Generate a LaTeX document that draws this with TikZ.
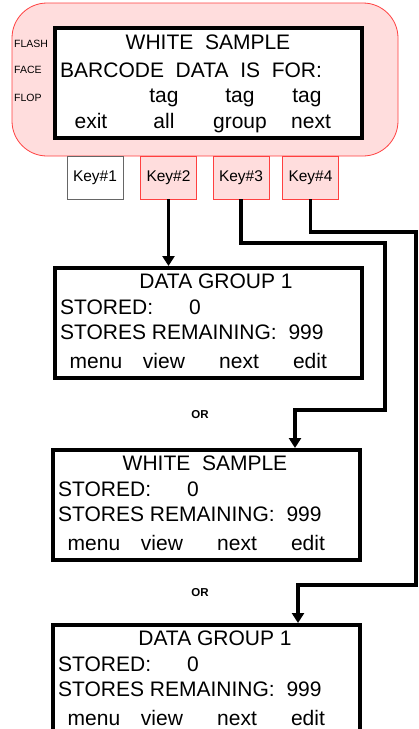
\documentclass[tikz,border=0pt]{standalone}
\usepackage{fontspec}
\setmainfont{Liberation Sans}
\usetikzlibrary{arrows.meta,positioning}
\definecolor{panelpink}{HTML}{FFDDDD}
\definecolor{panelred}{HTML}{FF4040}
\tikzset{
  >={Triangle[length=10pt,width=12pt]},
  scr/.style={draw, line width=3.5pt, fill=white, anchor=north west, inner sep=0pt},
  lcd/.style={font=\fontsize{21}{25}\selectfont, inner sep=0pt, anchor=base},
  side/.style={font=\fontsize{10.5}{12}\selectfont, inner sep=0pt, anchor=base west},
  keybox/.style={draw=panelred, fill=panelpink, line width=0.8pt, minimum width=56pt,
    minimum height=43pt, inner sep=0pt, font=\fontsize{15.5}{18}\selectfont},
  flow/.style={->, line width=3.8pt},
  ortext/.style={font=\bfseries\fontsize{11.5}{13}\selectfont, inner sep=0pt, anchor=base},
}

\begin{document}
\begin{tikzpicture}[x=1pt, y=-1pt]
  \useasboundingbox (0,0) rectangle (419,729);
  \clip (0,0) rectangle (419,729);

  % panel with its keys
  \draw[panelred, fill=panelpink, line width=0.8pt, rounded corners=35pt] (12,3) rectangle (398,156);
  \node[keybox, draw=black!60, fill=white] (k1) at (95,177.5) {Key\#1};
  \node[keybox] (k2) at (168.5,177.5) {Key\#2};
  \node[keybox] (k3) at (241,177.5) {Key\#3};
  \node[keybox] (k4) at (310.5,177.5) {Key\#4};

  \node[side] (flash) at (14,47) {FLASH};
  \node[side] (face)  at (14,73) {FACE};
  \node[side] (flop)  at (14,101) {FLOP};

  % top screen
  \node[scr, minimum width=307pt, minimum height=110pt] (s0) at (53,26) {};
  \node[lcd] (s0-title) at (208,49) {WHITE\ \ SAMPLE};
  \node[lcd, anchor=base west] (s0-line) at (60,77) {BARCODE\ \ DATA\ \ IS\ \ FOR:};
  \foreach \x/\n in {164/a, 240/b, 307/c}
    \node[lcd] (s0-tag\n) at (\x,102) {tag};
  \foreach \x/\t/\n in {91/exit/a, 164/all/b, 240/group/c, 311/next/d}
    \node[lcd] (s0-key\n) at (\x,128) {\t};

  % result screens
  \foreach \s/\px/\py/\tx/\t in {s1/53/266/163/DATA GROUP 1,
                                 s2/51/448/154/WHITE\ \ SAMPLE,
                                 s3/51/623/164/DATA GROUP 1} {
    \node[scr, minimum width=307pt, minimum height=110pt] (\s) at (\px,\py) {};
    \node[lcd] (\s-title) at ([shift={(\tx,22)}]\s.north west) {\t};
    \node[lcd, anchor=base west] (\s-stored) at ([shift={(7,48)}]\s.north west) {STORED:\hspace{36pt}0};
    \node[lcd, anchor=base west] (\s-left) at ([shift={(7,73)}]\s.north west) {STORES REMAINING:\ \ 999};
    \foreach \x/\k in {43/menu, 111/view, 186/next, 257/edit}
      \node[lcd] (\s-\k) at ([shift={(\x,102)}]\s.north west) {\k};
  }

  \node[ortext] (or1) at (200,418) {OR};
  \node[ortext] (or2) at (200,596) {OR};

  % key routes
  \coordinate (c3a) at (385,243);
  \coordinate (c3b) at (295,410);
  \coordinate (c4a) at (416,232);
  \coordinate (c4b) at (298,585);
  \draw[flow] (k2.south) -- (k2.south |- s1.north);
  \draw[flow] (k3.south) |- (c3a) |- (c3b) -- (c3b |- s2.north);
  \draw[flow] (k4.south) |- (c4a) |- (c4b) -- (c4b |- s3.north);
\end{tikzpicture}
\end{document}
